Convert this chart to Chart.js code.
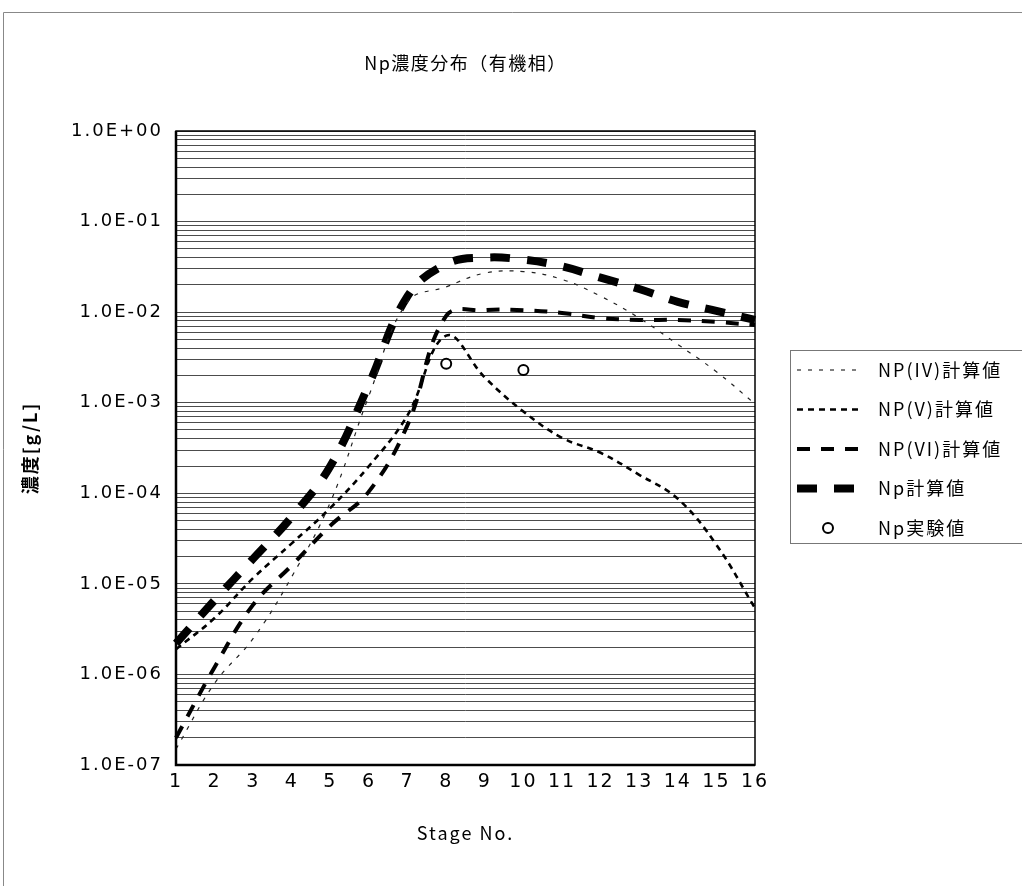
<!DOCTYPE html>
<html lang="ja">
<head>
<meta charset="UTF-8">
<title>Np濃度分布（有機相）</title>
<script src="https://cdn.jsdelivr.net/npm/chart.js"></script>
<style>
  html, body { margin: 0; padding: 0; background: #fff; }
  .chart-container { position: relative; width: 1022px; height: 886px; }
</style>
</head>
<body>
<div class="chart-container"><canvas id="npChart"></canvas></div>
<script>
// ステージ番号
const stages = ['1', '2', '3', '4', '5', '6', '7', '8', '9', '10', '11', '12', '13', '14', '15', '16'];

// 計算値 [g/L]
const np4Calc = [1.5e-7, 8e-7, 2.5e-6, 1.2e-5, 8e-5, 1.2e-3, 1.3e-2, 1.9e-2, 2.7e-2, 2.8e-2, 2.3e-2, 1.5e-2, 8.6e-3, 4.4e-3, 2.2e-3, 9.7e-4];
const np5Calc = [1.9e-6, 4.2e-6, 1.16e-5, 2.8e-5, 6.9e-5, 2.0e-4, 7.3e-4, 5.5e-3, 1.9e-3, 8.0e-4, 4.1e-4, 2.8e-4, 1.6e-4, 8.7e-5, 2.7e-5, 5.4e-6];
const np6Calc = [2e-7, 1.2e-6, 5.9e-6, 1.6e-5, 4.4e-5, 1.05e-4, 5.7e-4, 9.1e-3, 1.05e-2, 1.05e-2, 9.8e-3, 8.6e-3, 8.2e-3, 8.2e-3, 7.8e-3, 7.2e-3];
const npCalc = [2.2e-6, 6.6e-6, 1.9e-5, 5.5e-5, 2.0e-4, 1.6e-3, 1.5e-2, 3.4e-2, 4.0e-2, 3.8e-2, 3.2e-2, 2.4e-2, 1.8e-2, 1.3e-2, 1.03e-2, 8.2e-3];
// 実験値
const npExp = [null, null, null, null, null, null, null, 2.7e-3, null, 2.3e-3, null, null, null, null, null, null];

// 縦軸の目盛ラベル（1E-07 → 1E+00）
const yTickLabels = ['1.0E-07', '1.0E-06', '1.0E-05', '1.0E-04', '1.0E-03', '1.0E-02', '1.0E-01', '1.0E+00'];

// 補助目盛線 1〜9 × 10^n
const yGridValues = [];
for (let e = -7; e < 0; e++) {
  for (let m = 1; m <= 9; m++) yGridValues.push(m * Math.pow(10, e));
}
yGridValues.push(1);

const jpFont = '"Noto Sans CJK JP", sans-serif';
const numFont = '"DejaVu Sans", sans-serif';

// 元の図は字間が広いので少し空ける
const spacingPlugin = {
  id: 'spacing',
  beforeDraw(chart) { chart.ctx.letterSpacing = '2px'; }
};

// タイトル・枠・凡例を描くプラグイン
const decorPlugin = {
  id: 'decor',
  afterDraw(chart) {
    const ctx = chart.ctx;
    const a = chart.chartArea;
    ctx.save();

    // 外枠
    ctx.strokeStyle = '#888';
    ctx.lineWidth = 1;
    ctx.beginPath();
    ctx.moveTo(3.5, 886);
    ctx.lineTo(3.5, 12.5);
    ctx.lineTo(1022, 12.5);
    ctx.stroke();

    // プロットエリアの枠
    ctx.strokeStyle = '#000';
    ctx.lineWidth = 1.5;
    ctx.strokeRect(a.left, a.top, a.right - a.left, a.bottom - a.top);
    ctx.lineWidth = 2.5;
    ctx.beginPath();
    ctx.moveTo(a.left, a.top);
    ctx.lineTo(a.left, a.bottom);
    ctx.lineTo(a.right, a.bottom);
    ctx.stroke();

    // タイトル
    ctx.fillStyle = '#000';
    ctx.letterSpacing = '1.5px';
    ctx.font = '18px ' + jpFont;
    ctx.textAlign = 'center';
    ctx.textBaseline = 'middle';
    ctx.fillText('Np濃度分布（有機相）', (a.left + a.right) / 2, 63);

    // 凡例
    ctx.strokeStyle = '#777';
    ctx.lineWidth = 1;
    ctx.strokeRect(790.5, 350.5, 260, 193);
    chart.data.datasets.forEach((ds, i) => {
      const y = 370 + i * 39.5;
      ctx.strokeStyle = '#000';
      if (ds.showLine === false) {
        ctx.lineWidth = ds.pointBorderWidth;
        ctx.fillStyle = '#fff';
        ctx.beginPath();
        ctx.arc(828, y, ds.pointRadius, 0, Math.PI * 2);
        ctx.fill();
        ctx.stroke();
      } else {
        ctx.lineWidth = ds.borderWidth;
        ctx.setLineDash(ds.borderDash);
        ctx.beginPath();
        ctx.moveTo(797, y);
        ctx.lineTo(859, y);
        ctx.stroke();
        ctx.setLineDash([]);
      }
      ctx.fillStyle = '#000';
      ctx.letterSpacing = '2px';
      ctx.font = '18px ' + jpFont;
      ctx.textAlign = 'left';
      ctx.fillText(ds.label, 878, y);
    });
    ctx.restore();
    ctx.letterSpacing = '0px';
  }
};

const ctx = document.getElementById('npChart').getContext('2d');
new Chart(ctx, {
  type: 'line',
  data: {
    labels: stages,
    datasets: [
      { label: 'NP(IV)計算値', data: np4Calc, borderColor: '#222', borderWidth: 1.2, borderDash: [4, 7] },
      { label: 'NP(V)計算値', data: np5Calc, borderColor: '#000', borderWidth: 2.6, borderDash: [6, 5] },
      { label: 'NP(VI)計算値', data: np6Calc, borderColor: '#000', borderWidth: 4, borderDash: [13, 11] },
      { label: 'Np計算値', data: npCalc, borderColor: '#000', borderWidth: 8, borderDash: [20, 17] },
      { label: 'Np実験値', data: npExp, showLine: false, pointRadius: 5, pointBorderWidth: 2,
        pointBorderColor: '#000', pointBackgroundColor: '#fff' }
    ].map(ds => Object.assign({ fill: false, tension: 0.4, pointRadius: 0, spanGaps: false }, ds))
  },
  options: {
    responsive: true,
    maintainAspectRatio: false,
    animation: false,
    devicePixelRatio: 1,
    layout: { padding: { left: 0, right: 267, top: 131, bottom: 0 } },
    plugins: {
      legend: { display: false },
      tooltip: { enabled: false }
    },
    scales: {
      x: {
        type: 'category',
        offset: false,
        grid: { display: false, drawTicks: false },
        border: { display: false },
        ticks: { color: '#000', font: { family: numFont, size: 19 }, padding: 6, maxRotation: 0, autoSkip: false },
        title: { display: true, text: 'Stage No.', color: '#000', font: { family: jpFont, size: 18 }, padding: { top: 0, bottom: 42 } },
        afterFit(scale) { scale.height = 121; }
      },
      y: {
        type: 'logarithmic',
        min: 1e-7,
        max: 1,
        grid: { color: 'rgba(0,0,0,0.7)', lineWidth: 1, drawTicks: false },
        border: { display: false },
        afterBuildTicks(scale) { scale.ticks = yGridValues.map(v => ({ value: v })); },
        ticks: {
          autoSkip: false,
          color: '#000',
          padding: 13,
          font: { family: numFont, size: 18 },
          callback(value) {
            const e = Math.log10(value);
            if (Math.abs(e - Math.round(e)) < 1e-6) return yTickLabels[Math.round(e) + 7];
            return '';
          }
        },
        title: { display: true, text: '濃度[g/L]', color: '#000', font: { family: jpFont, size: 18, weight: 'bold' }, padding: { top: 19, bottom: 0 } },
        afterFit(scale) { scale.width = 176; }
      }
    }
  },
  plugins: [spacingPlugin, decorPlugin]
});
</script>
</body>
</html>
